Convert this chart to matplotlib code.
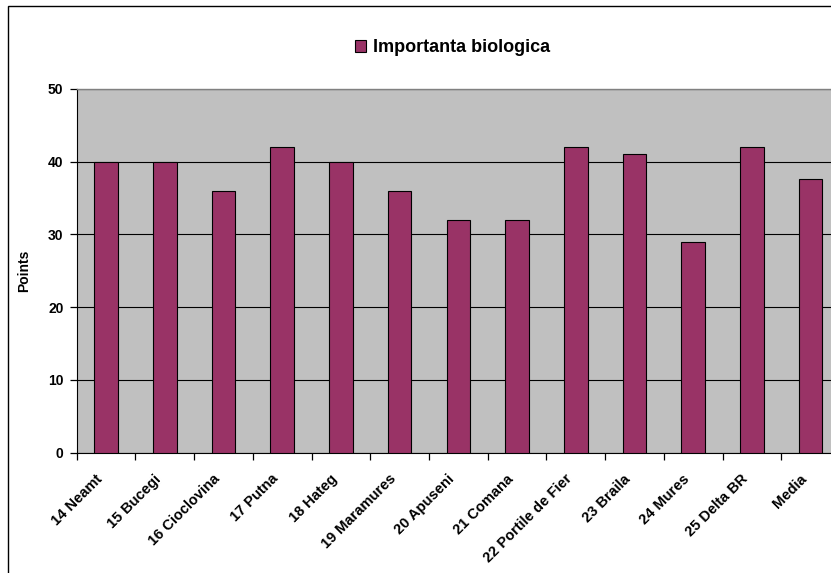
import numpy as np
import matplotlib
matplotlib.use('Agg')
import matplotlib.pyplot as plt
from matplotlib.patches import Rectangle, Patch
from matplotlib.transforms import ScaledTranslation

plt.rcParams['font.family'] = ['Liberation Sans', 'DejaVu Sans']
plt.rcParams['font.weight'] = 'bold'

#-------------------------------------------------------------------------
# chart data
categories = ['14 Neamt', '15 Bucegi', '16 Cioclovina', '17 Putna', '18 Hateg',
              '19 Maramures', '20 Apuseni', '21 Comana', '22 Portile de Fier',
              '23 Braila', '24 Mures', '25 Delta BR', 'Media']
values = [40, 40, 36, 42, 40, 36, 32, 32, 42, 41, 29, 42, 37.67]
series_name = 'Importanta biologica'
y_label = 'Points'
y_ticks = [0, 10, 20, 30, 40, 50]
#-------------------------------------------------------------------------

W, H = 831, 573
fig = plt.figure(figsize=(W/100, H/100), dpi=100)
fig.patch.set_facecolor('white')

# outer chart border (cut off on the right and bottom)
fig.patches.append(Rectangle((8/W, -0.05), 1.1, 1.05 - 5.5/H, transform=fig.transFigure,
                             fill=False, edgecolor='black', linewidth=1.0, clip_on=False))

left, right, top, bottom = 76.7, 840, 89, 452.7
ax = fig.add_axes([left/W, 1 - bottom/H, (right-left)/W, (bottom-top)/H])
ax.set_facecolor('#C0C0C0')

x = np.arange(len(categories))
ax.bar(x, values, width=0.40, color='#993366', edgecolor='black', linewidth=0.8, zorder=3)

ax.set_xlim(-0.5, len(categories) - 0.5)
ax.set_ylim(0, 50)
ax.set_yticks(y_ticks)
ax.set_yticklabels([str(t) for t in y_ticks], fontsize=10, fontweight='bold')
ax.grid(axis='y', color='black', linewidth=0.8, zorder=1)

ax.set_xticks(x)
ax.set_xticklabels(categories, rotation=45, ha='right', rotation_mode='anchor',
                   fontsize=10.5, fontweight='bold')
ax.tick_params(axis='x', length=0, pad=8)
offset = ScaledTranslation(-11/100, -8/100, fig.dpi_scale_trans)
for lbl in ax.get_xticklabels():
    lbl.set_transform(lbl.get_transform() + offset)
ax.set_xticks(np.arange(len(categories) + 1) - 0.5, minor=True)
ax.tick_params(axis='x', which='minor', length=5, width=0.9, color='black')
ax.tick_params(axis='y', length=5, width=0.9, color='black', pad=4.5)

for s in ['top', 'right']:
    ax.spines[s].set_color('#808080')
    ax.spines[s].set_linewidth(1.0)
ax.spines['left'].set_color('black')
ax.spines['bottom'].set_color('black')

ax.set_ylabel(y_label, fontsize=10, fontweight='bold', labelpad=12)

handle = Patch(facecolor='#993366', edgecolor='black', linewidth=0.8)
fig.legend([handle], [series_name], loc='center',
           bbox_to_anchor=(452.5/W, 1 - 48/H), frameon=False,
           prop={'size': 13, 'weight': 'bold'},
           handlelength=0.6, handleheight=0.6, handletextpad=0.35)

fig.savefig('out.png', dpi=100)
